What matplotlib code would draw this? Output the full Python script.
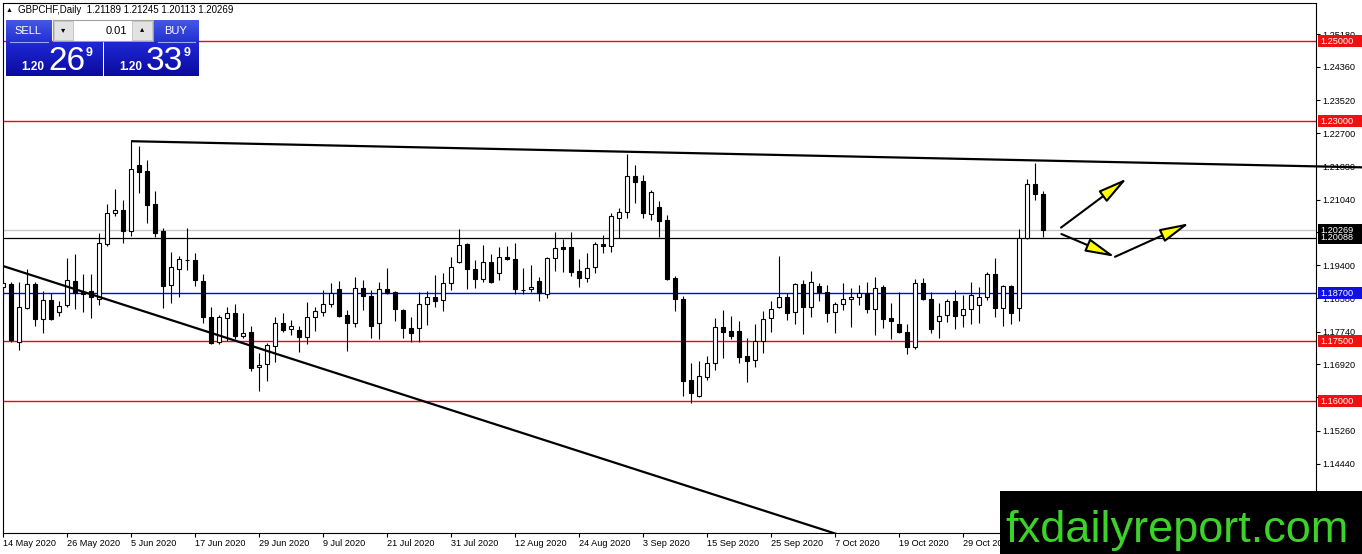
import matplotlib
matplotlib.use('Agg')
import matplotlib.pyplot as plt
import matplotlib.transforms as mtransforms
from matplotlib.patches import Rectangle
from matplotlib.colors import LinearSegmentedColormap
import numpy as np

W, H = 1362, 554
FONT = ['Liberation Sans', 'DejaVu Sans']

# GBPCHF daily candles, 14 May 2020 .. 12 Nov 2020
opens = [1.1886, 1.1893, 1.1748, 1.1833, 1.1893, 1.1806, 1.1853, 1.1823, 1.1841, 1.1901,
         1.1873, 1.1876, 1.1856, 1.1993, 1.2071, 1.2078, 1.2026, 1.2191, 1.2176, 1.2093,
         1.2026, 1.1891, 1.1931, 1.1954, 1.1953, 1.1901, 1.1811, 1.1748, 1.1808, 1.1821,
         1.1763, 1.1773, 1.1686, 1.1693, 1.1738, 1.1796, 1.1781, 1.1778, 1.1761, 1.1811,
         1.1823, 1.1843, 1.1881, 1.1816, 1.1796, 1.1883, 1.1863, 1.1796, 1.1881, 1.1873,
         1.1828, 1.1783, 1.1783, 1.1843, 1.1861, 1.1853, 1.1896, 1.1948, 1.1993, 1.1931,
         1.1906, 1.1948, 1.1921, 1.1961, 1.1956, 1.1879, 1.1881, 1.1901, 1.1868, 1.1958,
         1.1986, 1.1986, 1.1926, 1.1908, 1.1936, 1.1993, 1.1988, 1.2058, 1.2073, 1.2163,
         1.2151, 1.2068, 1.2086, 1.2053, 1.1908, 1.1856, 1.1653, 1.1613, 1.1661, 1.1696,
         1.1786, 1.1776, 1.1776, 1.1713, 1.1703, 1.1751, 1.1808, 1.1836, 1.1861, 1.1823,
         1.1893, 1.1836, 1.1888, 1.1873, 1.1823, 1.1843, 1.1856, 1.1861, 1.1871, 1.1831,
         1.1886, 1.1808, 1.1793, 1.1773, 1.1736, 1.1896, 1.1856, 1.1801, 1.1816, 1.1851,
         1.1816, 1.1831, 1.1841, 1.1861, 1.1918, 1.1833, 1.1888, 1.1833, 1.2008, 1.2143,
         1.21189]
highs = [1.1903, 1.1898, 1.1898, 1.1931, 1.1898, 1.1876, 1.1871, 1.1851, 1.1958, 1.1968,
         1.1918, 1.1918, 1.2021, 1.2093, 1.2131, 1.2103, 1.2251, 1.2238, 1.2203, 1.2126,
         1.2033, 1.1973, 1.1963, 1.2033, 1.1971, 1.1918, 1.1836, 1.1816, 1.1836, 1.1843,
         1.1821, 1.1788, 1.1721, 1.1746, 1.1811, 1.1821, 1.1803, 1.1788, 1.1848, 1.1836,
         1.1878, 1.1896, 1.1901, 1.1828, 1.1911, 1.1903, 1.1878, 1.1898, 1.1933, 1.1876,
         1.1831, 1.1811, 1.1873, 1.1876, 1.1916, 1.1921, 1.1961, 1.2031, 1.1996, 1.1953,
         1.1991, 1.1968, 1.1986, 1.1988, 1.1996, 1.1933, 1.1941, 1.1911, 1.1961, 1.2023,
         1.2006, 1.2023, 1.1956, 1.1971, 1.1998, 1.2016, 1.2071, 1.2083, 1.2218, 1.2191,
         1.2166, 1.2128, 1.2101, 1.2066, 1.1913, 1.1863, 1.1696, 1.1701, 1.1713, 1.1808,
         1.1828, 1.1813, 1.1801, 1.1758, 1.1793, 1.1826, 1.1851, 1.1963, 1.1871, 1.1896,
         1.1903, 1.1926, 1.1896, 1.1891, 1.1848, 1.1896, 1.1883, 1.1891, 1.1898, 1.1911,
         1.1891, 1.1846, 1.1873, 1.1793, 1.1906, 1.1908, 1.1873, 1.1846, 1.1856, 1.1878,
         1.1866, 1.1898, 1.1886, 1.1923, 1.1958, 1.1891, 1.1891, 1.2031, 1.2156, 1.2196,
         1.21245]
lows = [1.1853, 1.1748, 1.1728, 1.1831, 1.1788, 1.1771, 1.1803, 1.1813, 1.1836, 1.1831,
        1.1823, 1.1808, 1.1841, 1.1988, 1.2063, 1.1996, 1.2013, 1.2121, 1.2046, 1.2011,
        1.1833, 1.1846, 1.1861, 1.1928, 1.1888, 1.1796, 1.1743, 1.1743, 1.1751, 1.1756,
        1.1758, 1.1676, 1.1626, 1.1651, 1.1698, 1.1773, 1.1766, 1.1723, 1.1743, 1.1776,
        1.1813, 1.1836, 1.1811, 1.1726, 1.1786, 1.1828, 1.1758, 1.1756, 1.1868, 1.1801,
        1.1758, 1.1748, 1.1748, 1.1791, 1.1836, 1.1826, 1.1878, 1.1946, 1.1881, 1.1883,
        1.1898, 1.1896, 1.1903, 1.1953, 1.1868, 1.1868, 1.1873, 1.1851, 1.1858, 1.1926,
        1.1923, 1.1913, 1.1886, 1.1898, 1.1921, 1.1971, 1.1973, 1.2008, 1.2058, 1.2096,
        1.2058, 1.2053, 1.2011, 1.1903, 1.1826, 1.1613, 1.1596, 1.1611, 1.1653, 1.1678,
        1.1708, 1.1756, 1.1696, 1.1648, 1.1686, 1.1721, 1.1773, 1.1833, 1.1803, 1.1793,
        1.1768, 1.1811, 1.1851, 1.1798, 1.1771, 1.1828, 1.1786, 1.1841, 1.1821, 1.1766,
        1.1783, 1.1756, 1.1771, 1.1718, 1.1731, 1.1853, 1.1771, 1.1758, 1.1798, 1.1781,
        1.1786, 1.1793, 1.1796, 1.1853, 1.1811, 1.1788, 1.1793, 1.1801, 1.2006, 1.2103,
        1.20113]
closes = [1.1896, 1.1753, 1.1836, 1.1893, 1.1806, 1.1853, 1.1806, 1.1838, 1.1903, 1.1871,
          1.1868, 1.1861, 1.1996, 1.2071, 1.2078, 1.2026, 1.2181, 1.2173, 1.2091, 1.2021,
          1.1888, 1.1936, 1.1956, 1.1952, 1.1903, 1.1811, 1.1746, 1.1811, 1.1821, 1.1763,
          1.1771, 1.1683, 1.1691, 1.1741, 1.1796, 1.1778, 1.1788, 1.1761, 1.1811, 1.1826,
          1.1843, 1.1871, 1.1813, 1.1796, 1.1883, 1.1863, 1.1788, 1.1881, 1.1871, 1.1831,
          1.1783, 1.1771, 1.1843, 1.1861, 1.1851, 1.1896, 1.1936, 1.1991, 1.1931, 1.1906,
          1.1948, 1.1898, 1.1961, 1.1956, 1.1881, 1.1877, 1.1886, 1.1871, 1.1958, 1.1983,
          1.1981, 1.1923, 1.1908, 1.1933, 1.1993, 1.1988, 1.2063, 1.2073, 1.2163, 1.2148,
          1.2071, 1.2123, 1.2051, 1.1906, 1.1856, 1.1651, 1.1621, 1.1663, 1.1696, 1.1786,
          1.1773, 1.1763, 1.1711, 1.1701, 1.1751, 1.1806, 1.1831, 1.1861, 1.1821, 1.1893,
          1.1836, 1.1898, 1.1873, 1.1821, 1.1843, 1.1856, 1.1861, 1.1871, 1.1831, 1.1883,
          1.1806, 1.1801, 1.1773, 1.1736, 1.1896, 1.1856, 1.1781, 1.1813, 1.1851, 1.1813,
          1.1831, 1.1866, 1.1861, 1.1918, 1.1833, 1.1888, 1.1821, 1.2008, 1.2143, 1.2118,
          1.20269]

date_labels = ['14 May 2020', '26 May 2020', '5 Jun 2020', '17 Jun 2020', '29 Jun 2020',
               '9 Jul 2020', '21 Jul 2020', '31 Jul 2020', '12 Aug 2020', '24 Aug 2020',
               '3 Sep 2020', '15 Sep 2020', '25 Sep 2020', '7 Oct 2020', '19 Oct 2020',
               '29 Oct 2020', '10 Nov 2020']
price_ticks = [1.25180, 1.24360, 1.23520, 1.22700, 1.21880, 1.21040, 1.20220, 1.19400,
               1.18580, 1.17740, 1.16920, 1.16100, 1.15260, 1.14440, 1.13620]

red_levels = [1.25000, 1.23000, 1.17500, 1.16000]
blue_level = 1.18700
support_level = 1.20088
bid_price = 1.20269
symbol_title = 'GBPCHF,Daily  1.21189 1.21245 1.20113 1.20269'

# drawn objects (bar index, price)
upper_trend = [(16, 1.2250), (129, 1.2202)]
lower_trend = [(0, 1.1938), (100, 1.1295)]
arrows = [((132.25, 1.2034), (140.5, 1.2157)),
          ((132.3, 1.2018), (139.0, 1.1961)),
          ((139.0, 1.1961), (148.3, 1.2045))]

RED = '#ff0000'
BLUE = '#0000ff'

fig = plt.figure(figsize=(W / 100, H / 100), dpi=100)
fig.patch.set_facecolor('white')

# chart area: px 2.5..1316 horizontally, 3..533 vertically
ax = fig.add_axes([2.5 / W, 21 / H, (1316 - 2.5) / W, 530 / H])
ax.set_xlim(-0.0625, 164.125)
ax.set_ylim(1.12705, 1.25955)

o = np.array(opens); h = np.array(highs); l = np.array(lows); c = np.array(closes)
x = np.arange(len(o))
up = c >= o
bottom = np.minimum(o, c)
height = np.maximum(np.abs(c - o), 0.0001)

ax.vlines(x, l, h, color='black', lw=0.8, zorder=3)
ax.bar(x[up], height[up], bottom=bottom[up], width=0.62,
       facecolor='white', edgecolor='black', lw=0.8, zorder=4)
ax.bar(x[~up], height[~up], bottom=bottom[~up], width=0.62,
       facecolor='black', edgecolor='black', lw=0.8, zorder=4)

# horizontal levels
for lv in red_levels:
    ax.axhline(lv, color=RED, lw=1.0, zorder=2)
ax.axhline(blue_level, color=BLUE, lw=1.0, zorder=2)
ax.axhline(bid_price, color='#c8c8c8', lw=1.0, zorder=1)
ax.axhline(support_level, color='black', lw=0.9, zorder=2)

# trend lines
(x1, y1), (x2, y2) = upper_trend
k = (y2 - y1) / (x2 - x1)
xs = np.array([x1, 170.0])
ax.plot(xs, y1 + k * (xs - x1), color='black', lw=1.6, zorder=5,
        clip_on=False, solid_capstyle='butt')
(x1, y1), (x2, y2) = lower_trend
k = (y2 - y1) / (x2 - x1)
xs = np.array([-1.0, 110.0])
ax.plot(xs, y1 + k * (xs - x1), color='black', lw=1.6, zorder=5)

for (sx, sy), (ex, ey) in arrows:
    ax.annotate('', xy=(ex, ey), xytext=(sx, sy), zorder=6,
                arrowprops=dict(arrowstyle='-|>,head_length=1.8,head_width=0.42',
                                fc='#ffff00', ec='black', lw=1.5,
                                shrinkA=0, shrinkB=0, mutation_scale=10))

# axes styling
for s in ax.spines.values():
    s.set_color('black')
    s.set_linewidth(0.8)
ax.yaxis.tick_right()
ax.set_yticks(price_ticks)
ax.set_yticklabels(['%.5f' % v for v in price_ticks])
ax.set_xticks(range(0, len(o), 8))
ax.set_xticklabels(date_labels, ha='left')
ax.tick_params(axis='both', direction='out', length=3, width=0.8, color='black',
               labelsize=6.6, pad=1.5)
for t in ax.get_xticklabels() + ax.get_yticklabels():
    t.set_family(FONT)

# price labels on the right scale
blend = mtransforms.blended_transform_factory(fig.transFigure, ax.transData)
def price_tag(level, color):
    fig.add_artist(Rectangle((1318 / W, level - 0.0015), 44 / W, 0.003,
                             transform=blend, facecolor=color, edgecolor='none',
                             zorder=5, clip_on=False))
    fig.text(1320 / W, level, '%.5f' % level, transform=blend, color='white',
             fontsize=6.6, family=FONT, va='center', ha='left', zorder=6)

for lv in red_levels:
    price_tag(lv, '#f01010')
price_tag(blue_level, '#1010e0')
price_tag(bid_price, 'black')
price_tag(support_level, 'black')

# pixel helpers for the overlay widgets
def fx(px):
    return px / W

def fy(py):
    return 1 - py / H

def box(x0, y0, x1, y1, **kw):
    fig.add_artist(Rectangle((fx(x0), fy(y1)), (x1 - x0) / W, (y1 - y0) / H,
                             transform=fig.transFigure, zorder=8, **kw))

def grad_box(x0, y0, x1, y1, top, bot):
    gax = fig.add_axes([fx(x0), fy(y1), (x1 - x0) / W, (y1 - y0) / H], zorder=8)
    cmap = LinearSegmentedColormap.from_list('g', [top, bot])
    gax.imshow(np.linspace(0, 1, 64).reshape(-1, 1), aspect='auto', cmap=cmap,
               extent=[0, 1, 0, 1], origin='upper')
    gax.set_axis_off()

# title
fig.text(fx(6), fy(10), '\u25b2', fontsize=5, family=FONT, va='center', zorder=9)
fig.text(fx(18), fy(10), symbol_title, fontsize=7, family=FONT, va='center', zorder=9)

# one-click trading panel
grad_box(6, 20, 52, 42, '#4558e6', '#2330cf')
grad_box(154, 20, 199, 42, '#4558e6', '#2330cf')
grad_box(6, 42, 102, 76, '#2028d6', '#0a0a9c')
grad_box(104, 42, 199, 76, '#2028d6', '#0a0a9c')
box(53, 20, 153, 41, facecolor='white', edgecolor='#a0a0a0', lw=0.8)
box(54, 21, 73, 40, facecolor='#e2e2e2', edgecolor='#c0c0c0', lw=0.6)
box(132, 21, 152, 40, facecolor='#e2e2e2', edgecolor='#c0c0c0', lw=0.6)
fig.text(fx(63.5), fy(30.5), '\u25be', fontsize=6, family=FONT, ha='center',
         va='center', zorder=9)
fig.text(fx(142), fy(29.5), '\u25b4', fontsize=6, family=FONT, ha='center',
         va='center', zorder=9)
fig.text(fx(127), fy(30.5), '0.01', fontsize=8, family=FONT, ha='right',
         va='center', zorder=9)
for cx, lbl in [(28, 'SELL'), (176, 'BUY')]:
    fig.text(fx(cx), fy(30.5), lbl, fontsize=8, family=FONT, color='white',
             ha='center', va='center', zorder=9)
fig.add_artist(plt.Line2D([fx(10), fx(48)], [fy(41.5), fy(41.5)],
                          transform=fig.transFigure, color='#9aa4f0', lw=0.8, zorder=9))
fig.add_artist(plt.Line2D([fx(158), fx(195)], [fy(41.5), fy(41.5)],
                          transform=fig.transFigure, color='#9aa4f0', lw=0.8, zorder=9))
for x0, big in [(21, '26'), (119, '33')]:
    fig.text(fx(x0), fy(70), '1.20', fontsize=8.5, family=FONT, weight='bold',
             color='white', va='baseline', zorder=9)
    fig.text(fx(x0 + 27), fy(70), big, fontsize=24, family=FONT, color='white',
             va='baseline', zorder=9)
    fig.text(fx(x0 + 65), fy(56), '9', fontsize=9, family=FONT, weight='bold',
             color='white', va='baseline', zorder=9)

# watermark
box(1000, 491, 1362, 554, facecolor='black', edgecolor='none')
fig.text(fx(1177), fy(542), 'fxdailyreport.com', fontsize=32.5, family=FONT,
         color='#3cd22a', ha='center', va='baseline', zorder=9)

fig.savefig('out.png', dpi=100, facecolor='white')
